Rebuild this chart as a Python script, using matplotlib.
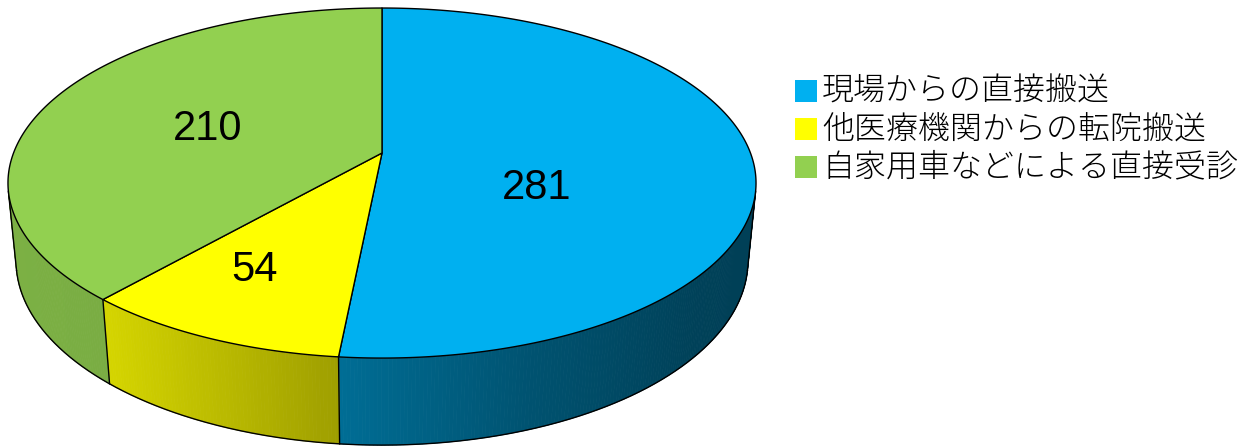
import numpy as np
import matplotlib
matplotlib.use("Agg")
import matplotlib.pyplot as plt
from matplotlib.patches import Polygon, Rectangle

plt.rcParams['font.family'] = ['Noto Sans CJK JP', 'DejaVu Sans']

# ---- data ----
categories = ["現場からの直接搬送", "他医療機関からの転院搬送", "自家用車などによる直接受診"]
values = [281, 54, 210]
colors = ["#00B0F0", "#FFFF00", "#92D050"]

# ---- 3D perspective parameters (layout) ----
W, Hpx = 1248, 446
cx, cy = 382.0, 153.0
sin_e = 0.461
cos_e = np.sqrt(1 - sin_e ** 2)
Dcam = 5.17
fcam = 1905.0
Hcyl = 0.2396

def proj(u, v, z):
    depth = Dcam + v * cos_e - z * sin_e
    xc = u
    yc = v * sin_e + z * cos_e
    return cx + fcam * xc / depth, cy - fcam * yc / depth

# shading factor along screen x
fx = [0, 110, 340, 530, 700, 760]
ff = [0.85, 0.83, 0.62, 0.47, 0.37, 0.36]

def shade(col, x):
    r, g, b = matplotlib.colors.to_rgb(col)
    k = np.interp(x, fx, ff)
    return (r * k, g * k, b * k)

fig = plt.figure(figsize=(W / 100, Hpx / 100), dpi=100)
ax = fig.add_axes([0, 0, 1, 1])
ax.set_xlim(0, W)
ax.set_ylim(Hpx, 0)
ax.axis('off')

total = float(sum(values))
bounds = np.concatenate([[0], np.cumsum(values)]) / total * 2 * np.pi  # clockwise from top
thr = -1.0 / (Dcam * cos_e)  # front-facing if cos(theta) < thr

# ---- sides ----
for i, col in enumerate(colors):
    a0, a1 = bounds[i], bounds[i + 1]
    n = max(int(np.degrees(a1 - a0) * 2), 2)
    ts = np.linspace(a0, a1, n + 1)
    for j in range(n):
        t1, t2 = ts[j], ts[j + 1]
        tm = 0.5 * (t1 + t2)
        if np.cos(tm) >= thr:
            continue
        p1 = proj(np.sin(t1), np.cos(t1), 0)
        p2 = proj(np.sin(t2), np.cos(t2), 0)
        q2 = proj(np.sin(t2), np.cos(t2), -Hcyl)
        q1 = proj(np.sin(t1), np.cos(t1), -Hcyl)
        c = shade(col, 0.5 * (p1[0] + p2[0]))
        ax.add_patch(Polygon([p1, p2, q2, q1], closed=True, facecolor=c,
                             edgecolor=c, linewidth=0.6, zorder=2))

# bottom outline of front side
tt = np.linspace(0, 2 * np.pi, 1441)
front = np.cos(tt) < thr
seg = tt[front]
pieces = np.split(seg, np.where(np.diff(seg) > 0.01)[0] + 1)
for pc in pieces:
    if len(pc) < 2:
        continue
    bx, by = proj(np.sin(pc), np.cos(pc), -Hcyl)
    ax.plot(bx, by, color='black', lw=1.0, zorder=3)

# vertical edges: silhouettes and slice boundaries on the front
ang_sil = np.arccos(thr)
vert_angles = [ang_sil, 2 * np.pi - ang_sil] + [b for b in bounds[1:-1] if np.cos(b) < thr]
for a in vert_angles:
    p = proj(np.sin(a), np.cos(a), 0)
    q = proj(np.sin(a), np.cos(a), -Hcyl)
    ax.plot([p[0], q[0]], [p[1], q[1]], color='black', lw=1.0, zorder=3)

# ---- top faces ----
for i, col in enumerate(colors):
    a0, a1 = bounds[i], bounds[i + 1]
    ts = np.linspace(a0, a1, 400)
    xs, ys = proj(np.sin(ts), np.cos(ts), 0)
    c0 = proj(0, 0, 0)
    pts = [c0] + list(zip(xs, ys))
    ax.add_patch(Polygon(pts, closed=True, facecolor=col, edgecolor='black',
                         linewidth=1.0, joinstyle='round', zorder=4))

# ---- value labels ----
label_pos = {0: (537, 188), 1: (255, 270), 2: (208, 129)}
for i, v in enumerate(values):
    x, y = label_pos[i]
    ax.text(x, y, str(v), fontsize=30, ha='center', va='center', color='black',
            family=['Liberation Sans'], zorder=6)

# ---- legend ----
leg_y = [91, 129, 167]
for i, (cat, col) in enumerate(zip(categories, colors)):
    ax.add_patch(Rectangle((795, leg_y[i] - 11), 22, 22, facecolor=col,
                           edgecolor='none', zorder=5))
    ax.text(822, leg_y[i], cat, fontsize=23, ha='left', va='center',
            color='black', fontweight='light', zorder=6)

fig.savefig("out.png", dpi=100)
